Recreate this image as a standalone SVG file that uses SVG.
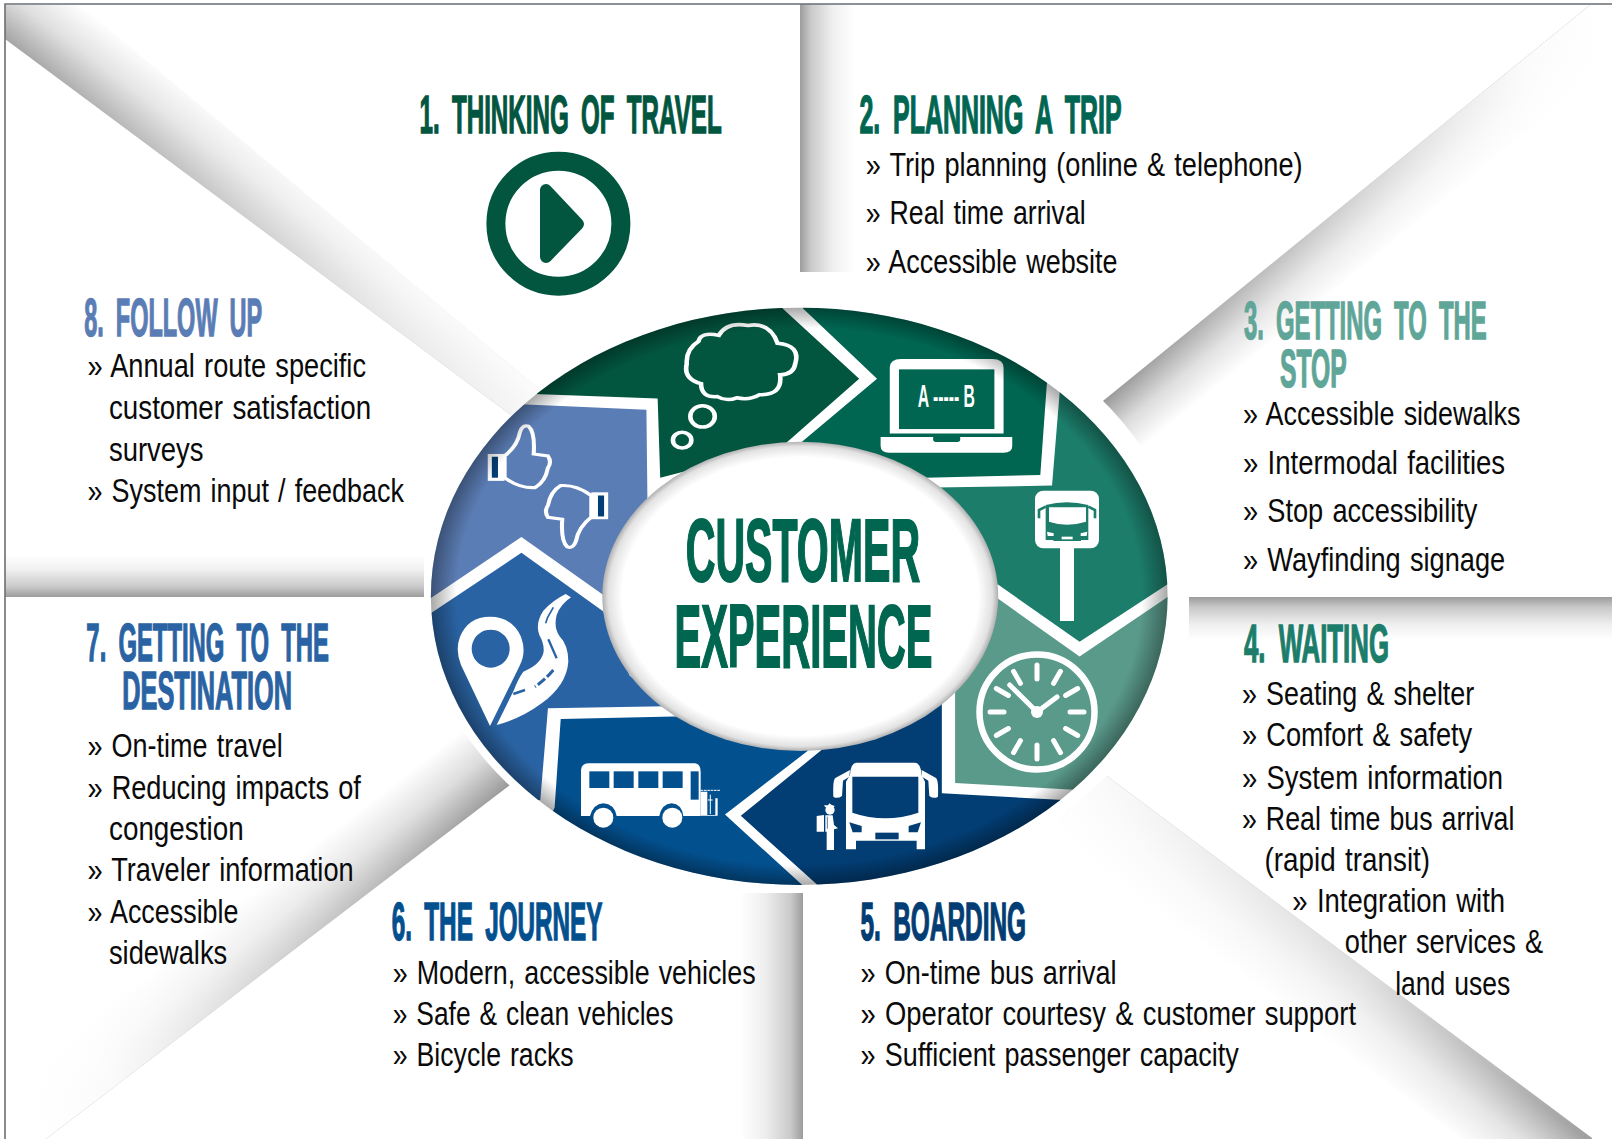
<svg xmlns="http://www.w3.org/2000/svg" width="1612" height="1139" viewBox="0 0 1612 1139">
<style>
text{font-family:"Liberation Sans",Arial,sans-serif}
.b{font-size:33px;fill:#0a0a0a;word-spacing:2px}
.t{font-size:52px;font-weight:700;stroke-width:1.4px;word-spacing:12px}
.c{font-size:87px;font-weight:700;fill:#00664f;stroke:#00664f;stroke-width:1.9px}
.s1{fill:#02553f}.s2{fill:#006652}.s3{fill:#1c7d6b}.s4{fill:#5a9a8b}.s5{fill:#023d73}.s6{fill:#03508f}.s7{fill:#2a63a3}.s8{fill:#5b7db5}
.w{fill:#fff}
.tick{stroke:#fff;stroke-width:5;stroke-linecap:round;fill:none}
</style>
<defs>
<linearGradient id="fV1" gradientUnits="userSpaceOnUse" x1="800" y1="0" x2="855" y2="0"><stop offset="0" stop-color="#9c9c9c"/><stop offset=".2" stop-color="#cacaca"/><stop offset=".6" stop-color="#f0f0f0"/><stop offset="1" stop-color="#fff"/></linearGradient>
<linearGradient id="fV2" gradientUnits="userSpaceOnUse" x1="803" y1="0" x2="740" y2="0"><stop offset="0" stop-color="#9c9c9c"/><stop offset=".2" stop-color="#cacaca"/><stop offset=".6" stop-color="#eee"/><stop offset="1" stop-color="#fff"/></linearGradient>
<linearGradient id="fH1" gradientUnits="userSpaceOnUse" x1="0" y1="597" x2="0" y2="555"><stop offset="0" stop-color="#9c9c9c"/><stop offset=".25" stop-color="#cacaca"/><stop offset=".65" stop-color="#f0f0f0"/><stop offset="1" stop-color="#fff"/></linearGradient>
<linearGradient id="fH2" gradientUnits="userSpaceOnUse" x1="0" y1="597" x2="0" y2="640"><stop offset="0" stop-color="#9c9c9c"/><stop offset=".25" stop-color="#cacaca"/><stop offset=".65" stop-color="#f0f0f0"/><stop offset="1" stop-color="#fff"/></linearGradient>
<linearGradient id="dTL" gradientUnits="userSpaceOnUse" x1="5" y1="39" x2="48" y2="-19"><stop offset="0" stop-color="#a4a4a4"/><stop offset=".5" stop-color="#dedede"/><stop offset="1" stop-color="#fff"/></linearGradient>
<linearGradient id="aTL" gradientUnits="userSpaceOnUse" x1="5" y1="39" x2="511" y2="415"><stop offset="0" stop-color="#fff" stop-opacity="0"/><stop offset=".75" stop-color="#fff" stop-opacity=".75"/><stop offset="1" stop-color="#fff" stop-opacity=".88"/></linearGradient>
<linearGradient id="dTR" gradientUnits="userSpaceOnUse" x1="1098" y1="405" x2="1136" y2="452"><stop offset="0" stop-color="#989898"/><stop offset=".5" stop-color="#dadada"/><stop offset="1" stop-color="#fff"/></linearGradient>
<linearGradient id="aTR" gradientUnits="userSpaceOnUse" x1="1098" y1="405" x2="1590" y2="5"><stop offset="0" stop-color="#fff" stop-opacity="0"/><stop offset=".85" stop-color="#fff" stop-opacity=".95"/><stop offset="1" stop-color="#fff"/></linearGradient>
<linearGradient id="dBL" gradientUnits="userSpaceOnUse" x1="514" y1="782" x2="470" y2="725"><stop offset="0" stop-color="#989898"/><stop offset=".5" stop-color="#dadada"/><stop offset="1" stop-color="#fff"/></linearGradient>
<linearGradient id="aBL" gradientUnits="userSpaceOnUse" x1="514" y1="782" x2="46" y2="1139"><stop offset="0" stop-color="#fff" stop-opacity="0"/><stop offset=".85" stop-color="#fff" stop-opacity=".95"/><stop offset="1" stop-color="#fff"/></linearGradient>
<linearGradient id="dBR" gradientUnits="userSpaceOnUse" x1="1099" y1="770" x2="1052" y2="832"><stop offset="0" stop-color="#a0a0a0"/><stop offset=".5" stop-color="#dedede"/><stop offset="1" stop-color="#fff"/></linearGradient>
<linearGradient id="aBR" gradientUnits="userSpaceOnUse" x1="1592" y1="1138" x2="1099" y2="770"><stop offset="0" stop-color="#fff" stop-opacity="0"/><stop offset=".45" stop-color="#fff" stop-opacity=".65"/><stop offset="1" stop-color="#fff" stop-opacity=".95"/></linearGradient>
<radialGradient id="rim"><stop offset=".93" stop-color="#000" stop-opacity="0"/><stop offset="1" stop-color="#000" stop-opacity=".34"/></radialGradient>
<radialGradient id="hole"><stop offset=".9" stop-color="#fff"/><stop offset=".97" stop-color="#e2e2e2"/><stop offset="1" stop-color="#b0b0b0"/></radialGradient>
<clipPath id="wc"><ellipse cx="782.5" cy="800" rx="722" ry="730"/></clipPath>
</defs>
<rect width="1612" height="1139" fill="#fff"/>
<g id="folds">
<rect x="800" y="4" width="56" height="268" fill="url(#fV1)"/>
<rect x="740" y="893" width="63" height="246" fill="url(#fV2)"/>
<rect x="1189" y="597" width="423" height="43" fill="url(#fH2)"/>
<path d="M1098 405L1590 5H1612V60L1136 452Z" fill="url(#dTR)"/><path d="M1098 405L1590 5H1612V60L1136 452Z" fill="url(#aTR)"/>
<path d="M514 782L46 1139H5V1079L470 725Z" fill="url(#dBL)"/><path d="M514 782L46 1139H5V1079L470 725Z" fill="url(#aBL)"/>
<path d="M1099 770L1592 1138V1139H1462L1052 832Z" fill="url(#dBR)"/><path d="M1099 770L1592 1138V1139H1462L1052 832Z" fill="url(#aBR)"/>
<ellipse cx="803" cy="590" rx="384" ry="303" fill="#fff"/>
<rect x="5" y="555" width="419" height="42" fill="url(#fH1)"/>
<path d="M5 39L511 415L600 440L80 5H5Z" fill="url(#dTL)"/><path d="M5 39L511 415L600 440L80 5H5Z" fill="url(#aTL)"/>
</g>
<path id="frame" d="M5 1139V4H1612" fill="none" stroke="#6b6f73" stroke-width="1.6"/>
<g id="wheel" transform="translate(400 280) scale(.5102 .3954)">
<g clip-path="url(#wc)">
<rect x="0" y="0" width="1600" height="1600" class="w"/>
<path id="seg1" class="s1" d="M200 0H750V72L900 250L750 420L510 500L505 300L262 288Z"/>
<path id="seg2" class="s2" d="M790 0V72L935 250L785 412L800 560L1030 500L1255 493L1268 260V0Z"/>
<path id="seg3" class="s3" d="M1293 283L1278 520L1050 525L1100 770H1172L1332 915L1510 765H1600V283Z"/>
<path id="seg4" class="s4" d="M1160 795L1332 952L1510 797H1600V1295L1330 1290L1088 1272V1000Z"/>
<path id="seg5" class="s5" d="M1062 1000V1298L1310 1316H1600V1600H820V1532L668 1355L825 1190L900 1100Z"/>
<path id="seg6" class="s6" d="M315 1110L560 1103L800 1190L637 1352L790 1532V1600H200L303 1335Z"/>
<path id="seg7" class="s7" d="M238 690L398 838L450 1000L520 1078L290 1083L275 1315H0V895Z"/>
<path id="seg8" class="s8" d="M248 315L483 328L485 560L400 798L238 650L60 805L0 855V315Z"/>
</g>
<g id="icon-thought" fill="none" stroke="#fff" stroke-width="9">
<path d="M585 155Q590 130 625 140Q640 105 682 115Q725 105 740 160Q785 165 775 210Q772 240 745 240Q750 292 705 290Q685 305 660 298Q640 308 622 295Q590 298 590 262Q555 250 562 212Q560 175 585 155Z"/>
<ellipse cx="593" cy="345" rx="24" ry="27"/>
<ellipse cx="553" cy="405" rx="18" ry="20"/>
</g>
<g id="icon-laptop">
<path class="w" d="M960 388V222Q960 200 982 200H1161Q1183 200 1183 222V388Z"/>
<rect class="s2" x="978" y="226" width="187" height="151"/>
<path class="w" d="M942 397H1200V420Q1200 437 1183 437H959Q942 437 942 420Z"/>
<path class="s2" d="M1045 397H1098V404Q1098 410 1090 410H1053Q1045 410 1045 404Z"/>
<text x="1015" y="321" font-size="80" font-weight="700" fill="#fff" textLength="112" lengthAdjust="spacingAndGlyphs">A ----- B</text>
</g>
<g id="icon-thumbs">
<g id="thumb-up">
<rect class="w" x="172" y="440" width="33" height="68"/><rect class="s5" x="180" y="447" width="12" height="53"/>
<path class="s8" stroke="#fff" stroke-width="8" d="M205 445Q230 420 235 385Q240 365 252 370Q265 385 262 440L290 445Q298 460 290 475Q285 510 265 525Q235 528 205 500Z"/>
</g>
<g id="thumb-down" transform="translate(580 1045) scale(-1 -1)">
<rect class="w" x="172" y="440" width="33" height="68"/><rect class="s5" x="180" y="447" width="12" height="53"/>
<path class="s8" stroke="#fff" stroke-width="8" d="M205 445Q230 420 235 385Q240 365 252 370Q265 385 262 440L290 445Q298 460 290 475Q285 510 265 525Q235 528 205 500Z"/>
</g>
</g>
<ellipse id="rim-shade" cx="782.5" cy="800" rx="722" ry="730" fill="url(#rim)"/>
<ellipse id="hub" cx="784.5" cy="800" rx="388" ry="391" fill="url(#hole)"/>
</g>
<g id="icon-busstop" transform="translate(1025 480) scale(.3333)">
<rect class="w" x="105" y="200" width="42" height="223"/>
<rect class="w" x="30" y="32" width="192" height="173" rx="25"/>
<path class="s3" d="M62 75Q125 58 190 75V180H168V183H85V180H62Z"/>
<path d="M62 80L42 90V115M190 80L210 90V115" fill="none" stroke="#1c7d6b" stroke-width="8"/>
<path class="w" d="M72 82H183V125Q125 143 72 125Z"/>
<path class="w" d="M66 155L86 160V168H68ZM187 155L167 160V168H185Z"/>
<rect class="w" x="110" y="170" width="33" height="8"/>
</g>
<g id="icon-clock">
<circle cx="1037" cy="712" r="57.500" fill="none" stroke="#fff" stroke-width="6.500"/>
<path class="tick" d="M1037 665V679M1037 745V759M990 712H1004M1070 712H1084M1060.500 671.300L1053.500 683.400M1020.500 740.600L1013.500 752.700M1077.700 688.500L1065.600 695.500M1008.400 728.500L996.300 735.500M1077.700 735.500L1065.600 728.500M1008.400 695.500L996.300 688.500M1060.500 752.700L1053.500 740.600M1020.500 683.400L1013.500 671.300"/>
<path class="tick" d="M1009.700 685L1037 712L1057 697"/>
<circle class="w" cx="1037" cy="712" r="6"/>
</g>
<g id="icon-bus-front" transform="translate(810 750) scale(.3333)">
<path class="w" d="M108 298V95L120 75Q122 38 140 38H315Q332 38 335 75L345 95V298H320V272H138V298Z"/>
<path class="w" d="M120 60L76 84Q68 90 70 140Q82 148 96 138L99 92L118 80ZM335 60L378 84Q386 90 384 140Q372 148 358 138L355 92L336 80Z"/>
<path class="s5" d="M127 80H325V188Q226 222 127 188Z"/>
<path class="s5" d="M118 217L155 228V247H128ZM333 217L296 228V247H323Z"/>
<rect class="s5" x="196" y="248" width="70" height="20"/>
<circle class="w" cx="60" cy="180" r="14"/>
<path class="w" d="M46 172L42 166L54 166L58 160L64 164L74 168L70 175Z"/>
<path class="w" d="M20 198L42 195V245H20Z"/>
<path class="w" d="M46 196H68L72 225L84 235L72 238L72 300H50L50 245H46Z"/>
<path d="M52 200V236" stroke="#023d73" stroke-width="2" fill="none"/>
</g>
<g id="icon-bus-side" transform="translate(570 750) scale(.3333)">
<path class="w" d="M33 60Q35 40 55 40H375Q392 42 392 65V198H340Q335 162 305 160Q275 162 268 198H140Q133 162 100 160Q70 162 60 198H33Z"/>
<circle class="w" cx="100" cy="203" r="30"/><circle class="w" cx="307" cy="203" r="30"/>
<g class="s6"><rect x="58" y="64" width="60" height="50"/><rect x="131" y="64" width="60" height="50"/><rect x="205" y="64" width="60" height="50"/><rect x="278" y="64" width="60" height="50"/><rect x="362" y="64" width="24" height="85"/></g>
<path d="M392 121H452" stroke="#fff" stroke-width="3" stroke-dasharray="8 2"/>
<path class="w" d="M396 125H412V195H436V145H443V197H392V125Z"/>
<path d="M421 134V192M414 150H428" stroke="#fff" stroke-width="3" fill="none"/>
</g>
<g id="icon-pin-road" transform="translate(445 590) scale(.3333)">
<path class="w" fill-rule="evenodd" d="M135 408L48 225Q30 180 45 140Q70 80 135 80Q200 80 228 140Q245 185 225 225ZM137 119a57 57 0 1 0 .1 0Z"/>
<path class="w" d="M155 405Q230 385 290 340Q365 285 370 215Q370 165 345 140Q325 115 335 75Q345 45 378 22L362 12Q325 30 295 62Q270 100 283 135Q300 165 295 190Q285 225 235 245Q220 265 207 300Z"/>
<g fill="none" stroke="#2a63a3">
<path d="M325 52L308 82L302 100" stroke-width="5"/>
<path d="M310 148L335 205" stroke-width="7"/>
<path d="M325 240Q300 270 270 290" stroke-width="9" stroke-dasharray="28 8"/>
<path d="M240 300L205 312" stroke-width="8"/>
</g>
</g>
<g id="play-icon">
<circle cx="558.400" cy="223.700" r="62.500" fill="none" stroke="#02553f" stroke-width="19"/>
<path d="M546 190L578 224L546 257Z" fill="#02553f" stroke="#02553f" stroke-width="12" stroke-linejoin="round"/>
</g>
<g id="centre" transform="scale(1.0281)">
<text class="c" transform="scale(.5 1)" x="1334" y="565" textLength="456" lengthAdjust="spacingAndGlyphs">CUSTOMER</text>
<text class="c" transform="scale(.5 1)" x="1312" y="649" textLength="502" lengthAdjust="spacingAndGlyphs">EXPERIENCE</text>
</g>
<g id="step-1" transform="scale(1.0281)">
<text class="t" transform="scale(.45 1)" x="906.700" y="129" fill="#02553f" stroke="#02553f" textLength="653.300" lengthAdjust="spacingAndGlyphs">1. THINKING OF TRAVEL</text>
</g>
<g id="step-2" transform="scale(1.0281)">
<text class="t" transform="scale(.45 1)" x="1857.800" y="129" fill="#006652" stroke="#006652" textLength="566.700" lengthAdjust="spacingAndGlyphs">2. PLANNING A TRIP</text>
<text class="b" x="842" y="171" textLength="425" lengthAdjust="spacingAndGlyphs">» Trip planning (online &amp; telephone)</text>
<text class="b" x="842" y="218" textLength="214" lengthAdjust="spacingAndGlyphs">» Real time arrival</text>
<text class="b" x="842" y="266" textLength="245" lengthAdjust="spacingAndGlyphs">» Accessible website</text>
</g>
<g id="step-3" transform="scale(1.0281)">
<text class="t" transform="scale(.45 1)" x="2688.900" y="330" fill="#5fa698" stroke="#5fa698" textLength="524.400" lengthAdjust="spacingAndGlyphs">3. GETTING TO THE</text>
<text class="t" transform="scale(.45 1)" x="2766.700" y="376" fill="#5fa698" stroke="#5fa698" textLength="144.400" lengthAdjust="spacingAndGlyphs">STOP</text>
<text class="b" x="1209" y="413" textLength="270" lengthAdjust="spacingAndGlyphs">» Accessible sidewalks</text>
<text class="b" x="1209" y="461" textLength="255" lengthAdjust="spacingAndGlyphs">» Intermodal facilities</text>
<text class="b" x="1209" y="508" textLength="228" lengthAdjust="spacingAndGlyphs">» Stop accessibility</text>
<text class="b" x="1209" y="555" textLength="255" lengthAdjust="spacingAndGlyphs">» Wayfinding signage</text>
</g>
<g id="step-4" transform="scale(1.0281)">
<text class="t" transform="scale(.45 1)" x="2688.900" y="644" fill="#1c7d6b" stroke="#1c7d6b" textLength="313.300" lengthAdjust="spacingAndGlyphs">4. WAITING</text>
<text class="b" x="1208" y="686" textLength="226" lengthAdjust="spacingAndGlyphs">» Seating &amp; shelter</text>
<text class="b" x="1208" y="726" textLength="224" lengthAdjust="spacingAndGlyphs">» Comfort &amp; safety</text>
<text class="b" x="1208" y="767" textLength="254" lengthAdjust="spacingAndGlyphs">» System information</text>
<text class="b" x="1208" y="807" textLength="265" lengthAdjust="spacingAndGlyphs">» Real time bus arrival</text>
<text class="b" x="1230" y="847" textLength="161" lengthAdjust="spacingAndGlyphs">(rapid transit)</text>
<text class="b" x="1257" y="887" textLength="207" lengthAdjust="spacingAndGlyphs">» Integration with</text>
<text class="b" x="1308" y="927" textLength="193" lengthAdjust="spacingAndGlyphs">other services &amp;</text>
<text class="b" x="1357" y="968" textLength="112" lengthAdjust="spacingAndGlyphs">land uses</text>
</g>
<g id="step-5" transform="scale(1.0281)">
<text class="t" transform="scale(.45 1)" x="1860" y="914" fill="#023d73" stroke="#023d73" textLength="357.800" lengthAdjust="spacingAndGlyphs">5. BOARDING</text>
<text class="b" x="837" y="957" textLength="249" lengthAdjust="spacingAndGlyphs">» On-time bus arrival</text>
<text class="b" x="837" y="997" textLength="482" lengthAdjust="spacingAndGlyphs">» Operator courtesy &amp; customer support</text>
<text class="b" x="837" y="1037" textLength="368" lengthAdjust="spacingAndGlyphs">» Sufficient passenger capacity</text>
</g>
<g id="step-6" transform="scale(1.0281)">
<text class="t" transform="scale(.45 1)" x="846.700" y="914" fill="#03508f" stroke="#03508f" textLength="455.600" lengthAdjust="spacingAndGlyphs">6. THE JOURNEY</text>
<text class="b" x="382" y="957" textLength="353" lengthAdjust="spacingAndGlyphs">» Modern, accessible vehicles</text>
<text class="b" x="382" y="997" textLength="273" lengthAdjust="spacingAndGlyphs">» Safe &amp; clean vehicles</text>
<text class="b" x="382" y="1037" textLength="176" lengthAdjust="spacingAndGlyphs">» Bicycle racks</text>
</g>
<g id="step-7" transform="scale(1.0281)">
<text class="t" transform="scale(.45 1)" x="186.700" y="643" fill="#2a63a3" stroke="#2a63a3" textLength="524.400" lengthAdjust="spacingAndGlyphs">7. GETTING TO THE</text>
<text class="t" transform="scale(.45 1)" x="264.400" y="690" fill="#2a63a3" stroke="#2a63a3" textLength="366.700" lengthAdjust="spacingAndGlyphs">DESTINATION</text>
<text class="b" x="85" y="736" textLength="190" lengthAdjust="spacingAndGlyphs">» On-time travel</text>
<text class="b" x="85" y="777" textLength="266" lengthAdjust="spacingAndGlyphs">» Reducing impacts of</text>
<text class="b" x="106" y="817" textLength="131" lengthAdjust="spacingAndGlyphs">congestion</text>
<text class="b" x="85" y="857" textLength="259" lengthAdjust="spacingAndGlyphs">» Traveler information</text>
<text class="b" x="85" y="898" textLength="147" lengthAdjust="spacingAndGlyphs">» Accessible</text>
<text class="b" x="106" y="938" textLength="115" lengthAdjust="spacingAndGlyphs">sidewalks</text>
</g>
<g id="step-8" transform="scale(1.0281)">
<text class="t" transform="scale(.45 1)" x="182.200" y="327" fill="#5b7db5" stroke="#5b7db5" textLength="384.400" lengthAdjust="spacingAndGlyphs">8. FOLLOW UP</text>
<text class="b" x="85" y="367" textLength="271" lengthAdjust="spacingAndGlyphs">» Annual route specific</text>
<text class="b" x="106" y="408" textLength="255" lengthAdjust="spacingAndGlyphs">customer satisfaction</text>
<text class="b" x="106" y="448" textLength="92" lengthAdjust="spacingAndGlyphs">surveys</text>
<text class="b" x="85" y="488" textLength="308" lengthAdjust="spacingAndGlyphs">» System input / feedback</text>
</g>
</svg>
